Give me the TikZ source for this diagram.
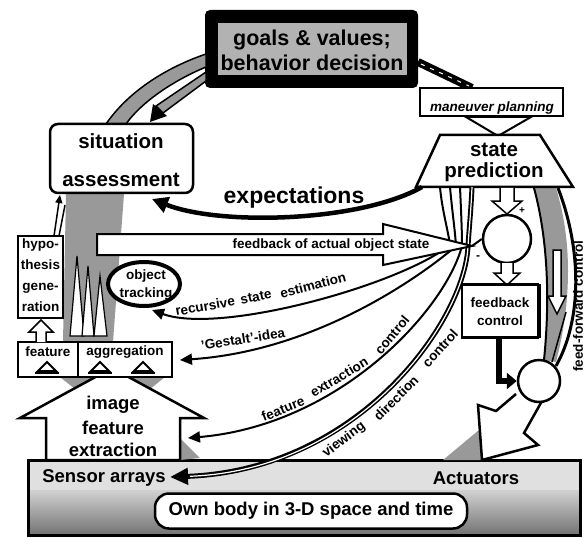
\documentclass[tikz,border=0pt]{standalone}
\usepackage{fontspec}
\setmainfont{Liberation Sans}
\usetikzlibrary{arrows.meta,shapes.geometric}
\begin{document}
\begin{tikzpicture}[x=1pt,y=-1pt,
  box/.style={draw=black,line width=2.5pt,fill=white},
  lbl/.style={font=\bfseries\fontsize{13.5}{15}\selectfont,inner sep=0pt},
  mid/.style={font=\bfseries\fontsize{18.5}{20}\selectfont,inner sep=0pt},
  big/.style={font=\bfseries\fontsize{20.5}{22}\selectfont,inner sep=0pt},
  stip/.style={fill=black!40},
  conn/.style={line width=2pt},
  tipa/.style={-{Triangle[length=12pt,width=11pt]}},
]
\useasboundingbox (0,0) rectangle (585,537);

% ---------- bottom box ----------
\fill[black!12] (28,460) rectangle (580,490);
\shade[top color=black!18,bottom color=black!55] (28,490) rectangle (580,535);
\draw[line width=3pt] (28,460) rectangle (580,535);
\node[mid] (sensor) at (104,478) {Sensor arrays};
\node[mid] (act) at (476,478) {Actuators};
\node[box,rounded corners=14pt,minimum width=312pt,minimum height=35pt,mid] (body) at (311,511) {Own body in 3-D space and time};

% ---------- goals box ----------
\fill[black,rounded corners=5pt] (205,10) rectangle (418,88);
\fill[black!30] (218,23) rectangle (407,75);
\node[font=\bfseries\fontsize{21.5}{23}\selectfont,inner sep=0pt] (goals1) at (312,40) {goals \& values;};
\node[font=\bfseries\fontsize{21.5}{23}\selectfont,inner sep=0pt] (goals2) at (312,63) {behavior decision};

% band goals -> maneuver planning
\draw[line width=8pt] (418,62) -- (472,88);
\draw[white,line width=1pt,dash pattern=on 4pt off 6pt] (421,64) -- (469,86);

% ---------- maneuver planning ----------
\node[box,minimum width=143pt,minimum height=28pt,inner sep=0pt] (man) at (491.5,102) {};
\node[font=\bfseries\itshape\fontsize{13.5}{14}\selectfont,inner sep=0pt] (mant) at (492,108) {maneuver planning};
\draw[line width=2pt,fill=white] (466,117) -- (531,117) -- (498,136) -- cycle;

% ---------- feed-forward band ----------
\fill[stip] (534,188) .. controls (548,240) and (550,300) .. (544,360) -- (556,362) .. controls (572,300) and (572,240) .. (556,188) -- cycle;
\draw[line width=2pt] (534,188) .. controls (548,240) and (550,300) .. (544,360);
\draw[line width=3pt] (558,188) .. controls (582,250) and (582,320) .. (556,366);
\draw[line width=1.5pt,fill=white] (553,250) -- (561,250) -- (561,296) -- (566,296) -- (557,314) -- (548,296) -- (553,296) -- cycle;
\draw[line width=1.5pt] (566,312) -- (552,362);
\draw[line width=1.5pt] (540,284) -- (540,338);
\node[lbl,rotate=90] (ff) at (578,306) {feed-forward control};

% ---------- state prediction ----------
\draw[box] (440,135) -- (540,135) -- (573,187) -- (416,187) -- cycle;
\node[big] (sp1) at (494,150) {state};
\node[big] (sp2) at (494,172) {prediction};

% ---------- situation assessment ----------
\draw[stip,line width=1.5pt] (106,124) .. controls (128,92) and (165,68) .. (206,54) -- (206,67) .. controls (170,82) and (140,104) .. (126,124) -- cycle;
\draw[stip,line width=1.5pt] (206,72) -- (206,81) -- (163,113) -- (156,106) -- cycle;
\fill (150,122) -- (153,104) -- (167,116) -- cycle;
\fill[stip] (63,342) -- (113,342) -- (124,194) -- (66,194) -- cycle;
\draw[box,rounded corners=8pt] (50,124) rectangle (193,193);
\node[big] (sa1) at (121,141) {situation};
\node[big] (sa2) at (121,180) {assessment};

% spikes in the gray band
\draw[line width=1.2pt,fill=white] (70,336) -- (77,256) -- (84,336) -- cycle;
\draw[line width=1.2pt,fill=white] (82,336) -- (88,266) -- (94,336) -- cycle;
\draw[line width=1.2pt,fill=white] (94,336) -- (100,276) -- (107,336) -- cycle;

% ---------- hypothesis generation ----------
\draw[box] (18,236) rectangle (63,318);
\node[lbl] (h1) at (40.5,245) {hypo-};
\node[lbl] (h2) at (40.5,265) {thesis};
\node[lbl] (h3) at (40.5,288) {gene-};
\node[lbl] (h4) at (40.5,307) {ration};
\draw[line width=1.5pt,-{Triangle[length=8pt,width=7pt]}] (54,236) -- (60,195);
\draw[line width=1.5pt] (59,236) -- (65,205);

% ---------- fan of connectors from state prediction ----------
\draw[conn,tipa] (440,187) .. controls (442,210) and (448,230) .. (450,245)
  .. controls (400,285) and (220,335) .. (152,310);
\draw[conn,tipa] (450,187) .. controls (452,210) and (455,230) .. (456,246)
  .. controls (440,260) and (330,350) .. (180,360);
\draw[conn,tipa] (460,187) .. controls (461,210) and (462,230) .. (462,246)
  .. controls (445,310) and (340,425) .. (188,438);
\draw[line width=5pt,-{Triangle[length=18pt,width=16pt]}] (472,187) .. controls (471,210) and (469,230) .. (468,246)
  .. controls (465,320) and (360,470) .. (170,477);
\draw[white,line width=1.2pt,shorten >=20pt] (472,187) .. controls (471,210) and (469,230) .. (468,246)
  .. controls (465,320) and (360,470) .. (170,477);

% expectations
\draw[line width=4.5pt,-{Triangle[length=16pt,width=16pt]}] (422,187) .. controls (360,222) and (220,226) .. (152,199);
\node[font=\bfseries\fontsize{23}{24}\selectfont,inner sep=0pt] (exp) at (294,198) {expectations};

% ---------- feedback of actual object state ----------
\draw[box,line width=2pt] (97,234) -- (383,234) -- (383,224) -- (472,246) -- (383,265) -- (383,255) -- (97,255) -- cycle;
\node[lbl] (fbs) at (331,245) {feedback of actual object state};

% comparison circle
\node[circle,box,minimum size=48pt,inner sep=0pt] (cmp) at (507,239) {};
\draw[conn] (472,246) -- (cmp.west);
\node[font=\bfseries\fontsize{10}{10}\selectfont,inner sep=0pt] (plus) at (522,211) {+};
\node[font=\bfseries\fontsize{12}{12}\selectfont,inner sep=0pt] (minus) at (478,258) {-};
\draw[line width=1.5pt,fill=white] (500,188) -- (500,201) -- (492,201) -- (507,214) -- (522,201) -- (514,201) -- (514,188);
\draw[line width=1.5pt,fill=white] (501,263) -- (501,273) -- (494,273) -- (507,285) -- (520,273) -- (513,273) -- (513,263);

% ---------- feedback control ----------
\node[box,minimum width=76pt,minimum height=53pt] (fb) at (500,311) {};
\node[lbl] (fb1) at (500,303) {feedback};
\node[lbl] (fb2) at (500,321) {control};

% ---------- actuator arrow + summing circle ----------
\fill[stip] (443,460) -- (479,430) -- (482,460) -- cycle;
\draw[box] (516,394) -- (496,411) -- (478,405) -- (482,460) -- (538,445) -- (524,433) -- (542,401);
\node[circle,box,minimum size=42pt,inner sep=0pt] (sum) at (539,381) {};
\draw[line width=6pt,-{Triangle[length=10pt,width=16pt]}] (499,338) |- (sum.west);

% ---------- object tracking ----------
\node[ellipse,draw,line width=4pt,fill=white,minimum width=72pt,minimum height=44pt] (ot) at (144,284) {};
\node[lbl] (ot1) at (146,276) {object};
\node[lbl] (ot2) at (146,294) {tracking};

% ---------- image feature extraction ----------
\fill[stip] (60,377) -- (165,377) -- (150,389) -- (75,389) -- cycle;
\fill[stip] (180,438) -- (200,458) -- (180,460) -- cycle;
\draw[box] (20,418) -- (112,368) -- (204,418) -- (180,418) -- (180,460) -- (46,460) -- (46,418) -- cycle;
\node[mid] (ife1) at (113,405) {image};
\node[mid] (ife2) at (113,428) {feature};
\node[mid] (ife3) at (113,450) {extraction};

% ---------- feature aggregation ----------
\node[box,minimum width=154pt,minimum height=35pt] (fa) at (95,359.5) {};
\draw[line width=2.5pt] (78,342) -- (78,377);
\node[lbl] (fa1) at (48,352) {feature};
\node[lbl] (fa2) at (125,352) {aggregation};
\foreach \x in {47,100,143} {
  \draw[line width=2pt,fill=white] (\x-9,371) -- (\x,362) -- (\x+9,371) -- cycle;
  \draw[line width=2.5pt] (\x-12,373) -- (\x+12,373);
}
\draw[line width=1.5pt,fill=white] (36,342) -- (36,332) -- (29,332) -- (41,320) -- (53,332) -- (46,332) -- (46,342);

% ---------- texts along the curves ----------
\node[lbl,rotate=10] (rse1) at (205,306) {recursive};
\node[lbl,rotate=12] (rse2) at (256,297) {state};
\node[lbl,rotate=15] (rse3) at (313,285) {estimation};
\node[lbl,rotate=9] (gi) at (243,339) {'Gestalt'-idea};
\node[lbl,rotate=22] (fec1) at (283,409) {feature};
\node[lbl,rotate=31] (fec2) at (339,377) {extraction};
\node[lbl,rotate=50] (fec3) at (392,335) {control};
\node[lbl,rotate=37] (vdc1) at (344,440) {viewing};
\node[lbl,rotate=45] (vdc2) at (396,398) {direction};
\node[lbl,rotate=48] (vdc3) at (440,348) {control};
\end{tikzpicture}
\end{document}
